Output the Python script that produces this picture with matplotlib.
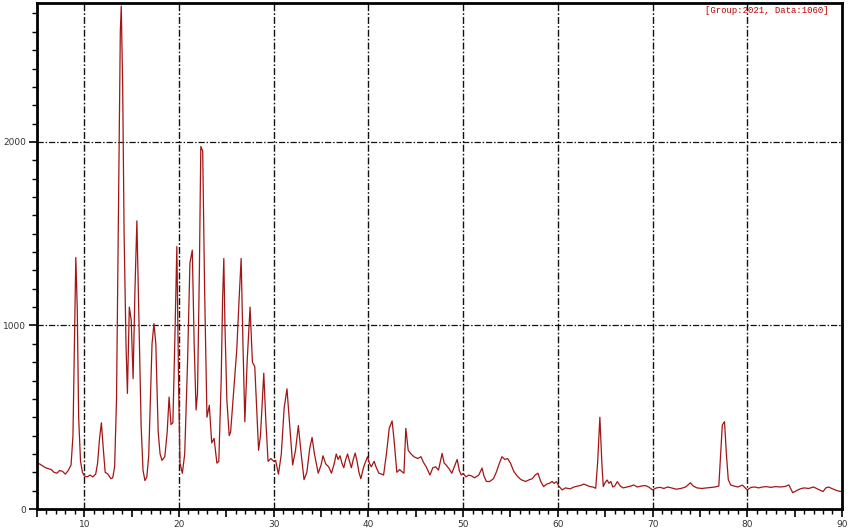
import matplotlib
matplotlib.use("Agg")
import matplotlib.pyplot as plt
from matplotlib.ticker import MultipleLocator, FuncFormatter

# --- DATA --------------------------------------------------------------
two_theta = [
    5.0, 5.3, 5.6, 5.9, 6.2, 6.5, 6.8, 7.1, 7.4, 7.7, 8.0, 8.3, 8.6, 8.8, 8.95,
    9.1, 9.25, 9.4, 9.6, 9.8, 10.0, 10.3, 10.6, 10.9, 11.2, 11.4, 11.6, 11.8,
    12.0, 12.2, 12.5, 12.8, 13.0, 13.2, 13.4, 13.6, 13.8, 13.9, 14.05, 14.2,
    14.4, 14.55, 14.75, 14.95, 15.15, 15.35, 15.55, 15.8, 16.0, 16.2, 16.4,
    16.6, 16.8, 17.0, 17.15, 17.35, 17.55, 17.8, 18.0, 18.2, 18.5, 18.75,
    18.95, 19.15, 19.35, 19.55, 19.77, 19.95, 20.1, 20.35, 20.6, 20.9, 21.15,
    21.4, 21.6, 21.8, 21.95, 22.15, 22.3, 22.5, 22.7, 22.95, 23.2, 23.45,
    23.7, 24.0, 24.2, 24.45, 24.6, 24.73, 24.85, 25.05, 25.3, 25.45, 25.8,
    26.1, 26.35, 26.56, 26.75, 26.95, 27.2, 27.5, 27.75, 28.0, 28.2, 28.4,
    28.6, 28.95, 29.15, 29.4, 29.7, 30.0, 30.2, 30.5, 30.8, 31.1, 31.4, 31.7,
    32.0, 32.3, 32.6, 32.9, 33.2, 33.5, 33.8, 34.05, 34.3, 34.7, 35.0, 35.2,
    35.5, 35.8, 36.1, 36.4, 36.6, 36.8, 37.0, 37.2, 37.4, 37.6, 37.8, 38.0,
    38.2, 38.4, 38.6, 38.8, 39.0, 39.2, 39.5, 39.9, 40.1, 40.3, 40.6, 40.8,
    41.1, 41.4, 41.6, 41.9, 42.2, 42.5, 42.7, 43.0, 43.3, 43.5, 43.75, 43.95,
    44.2, 44.5, 44.8, 45.2, 45.55, 45.8, 46.1, 46.5, 46.8, 47.1, 47.4, 47.78,
    48.0, 48.2, 48.5, 48.8, 49.1, 49.37, 49.6, 49.8, 50.0, 50.3, 50.6, 50.9,
    51.2, 51.65, 52.0, 52.2, 52.46, 52.8, 53.2, 53.5, 53.8, 54.1, 54.4, 54.7,
    55.0, 55.35, 55.7, 56.0, 56.2, 56.6, 57.0, 57.3, 57.6, 57.9, 58.2, 58.5,
    58.8, 59.1, 59.4, 59.6, 59.86, 60.1, 60.46, 60.8, 61.3, 61.7, 62.1, 62.5,
    62.75, 63.1, 63.4, 63.7, 64.0, 64.2, 64.44, 64.65, 64.8, 65.0, 65.2, 65.4,
    65.6, 65.8, 66.0, 66.28, 66.6, 66.9, 67.3, 67.7, 68.0, 68.4, 68.8, 69.2,
    69.6, 70.0, 70.4, 70.8, 71.2, 71.6, 72.0, 72.5, 73.0, 73.5, 74.0, 74.3,
    74.7, 75.2, 75.7, 76.2, 76.6, 77.0, 77.2, 77.37, 77.6, 77.8, 78.0, 78.25,
    78.6, 79.0, 79.5, 80.0, 80.4, 80.8, 81.2, 81.6, 82.0, 82.5, 83.0, 83.5,
    84.0, 84.4, 84.8, 85.2, 85.6, 86.0, 86.5, 87.0, 87.4, 87.8, 88.0, 88.3,
    88.6, 89.0, 89.5, 89.9, 90.0,
]
intensity = [
    250, 245, 235, 225, 220, 215, 200, 195, 210, 205, 190, 210, 240, 400, 900,
    1370, 1100, 500, 260, 200, 180, 175, 185, 175, 190, 250, 380, 470,
    330, 200, 190, 165, 170, 230, 600, 1600, 2600, 2740, 2300, 1500,
    900, 630, 1100, 1030, 710, 1200, 1570, 950, 450, 210, 155,
    175, 290, 650, 900, 1010, 900, 420, 300, 265, 285, 420,
    610, 460, 470, 900, 1430, 700, 250, 195, 300, 800, 1340,
    1410, 900, 540, 630, 1300, 1975, 1950, 1200, 500, 565, 360,
    385, 250, 260, 700, 1140, 1365, 1000, 595, 400, 420, 665,
    870, 1150, 1365, 900, 475, 810, 1100, 800, 775, 550, 320,
    400, 740, 500, 260, 275, 260, 265, 190, 300, 550, 655, 450,
    240, 320, 455, 300, 160, 200, 330, 390, 300, 195, 240, 290,
    245, 230, 195, 250, 300, 270, 290, 250, 225, 270, 300, 260,
    225, 270, 305, 260, 200, 165, 230, 285, 250, 230, 260, 230,
    195, 190, 185, 300, 440, 480, 380, 200, 215, 205, 195, 440,
    320, 300, 285, 275, 285, 255, 230, 185, 225, 230, 212, 303,
    250, 240, 220, 195, 235, 270, 210, 185, 194, 175, 185, 180,
    170, 185, 223, 180, 150, 150, 165, 200, 245, 285, 270, 275,
    250, 205, 180, 165, 158, 150, 160, 165, 185, 195, 150, 122,
    135, 140, 150, 140, 149, 125, 104, 115, 110, 120, 125, 130,
    136, 128, 122, 120, 113, 250, 500, 250, 122, 145, 158, 140,
    150, 120, 125, 149, 125, 115, 120, 125, 131, 120, 125, 128,
    120, 104, 115, 118, 112, 120, 115, 108, 112, 120, 143, 125,
    115, 112, 115, 118, 120, 125, 300, 458, 476, 300, 160, 131,
    125, 120, 130, 104, 118, 120, 115, 120, 122, 118, 122, 120,
    123, 131, 89, 100, 110, 115, 112, 120, 110, 100, 95, 115,
    120, 110, 100, 95, 100,
]
info_text = "[Group:2021, Data:1060]"

# --- PLOT ----------------------------------------------------------------
fig = plt.figure(figsize=(8.5, 5.31), dpi=100)
ax = fig.add_axes([0.0435, 0.0414, 0.947, 0.953])

ax.plot(two_theta, intensity, color="#a31515", lw=0.9)

ax.set_xlim(5, 90)
ax.set_ylim(0, 2757)

# grid: dash-dot at every 10 deg and every 1000 counts
grid_dash = (5, 1.5, 1.2, 1.5)
for gx in range(10, 90, 10):
    ax.axvline(gx, color="#111111", lw=1.0, dashes=grid_dash, zorder=0)
for gy in (1000, 2000):
    ax.axhline(gy, color="#111111", lw=0.9, dashes=grid_dash, zorder=0)

ax.xaxis.set_major_locator(MultipleLocator(5))
ax.xaxis.set_minor_locator(MultipleLocator(1))
ax.xaxis.set_major_formatter(
    FuncFormatter(lambda v, p: f"{v:.0f}" if v % 10 == 0 else ""))
ax.yaxis.set_major_locator(MultipleLocator(1000))
ax.yaxis.set_minor_locator(MultipleLocator(100))

ax.tick_params(which="major", direction="out", length=6, width=1.2,
               labelsize=6.5, pad=2, labelcolor="#333333")
ax.tick_params(which="minor", direction="out", length=3.5, width=1.0)

for sp in ax.spines.values():
    sp.set_linewidth(2)

ax.text(0.983, 0.995, info_text, transform=ax.transAxes, ha="right", va="top",
        color="#c00000", fontsize=6.5, family="Liberation Mono")

fig.savefig("out.png", dpi=100)
